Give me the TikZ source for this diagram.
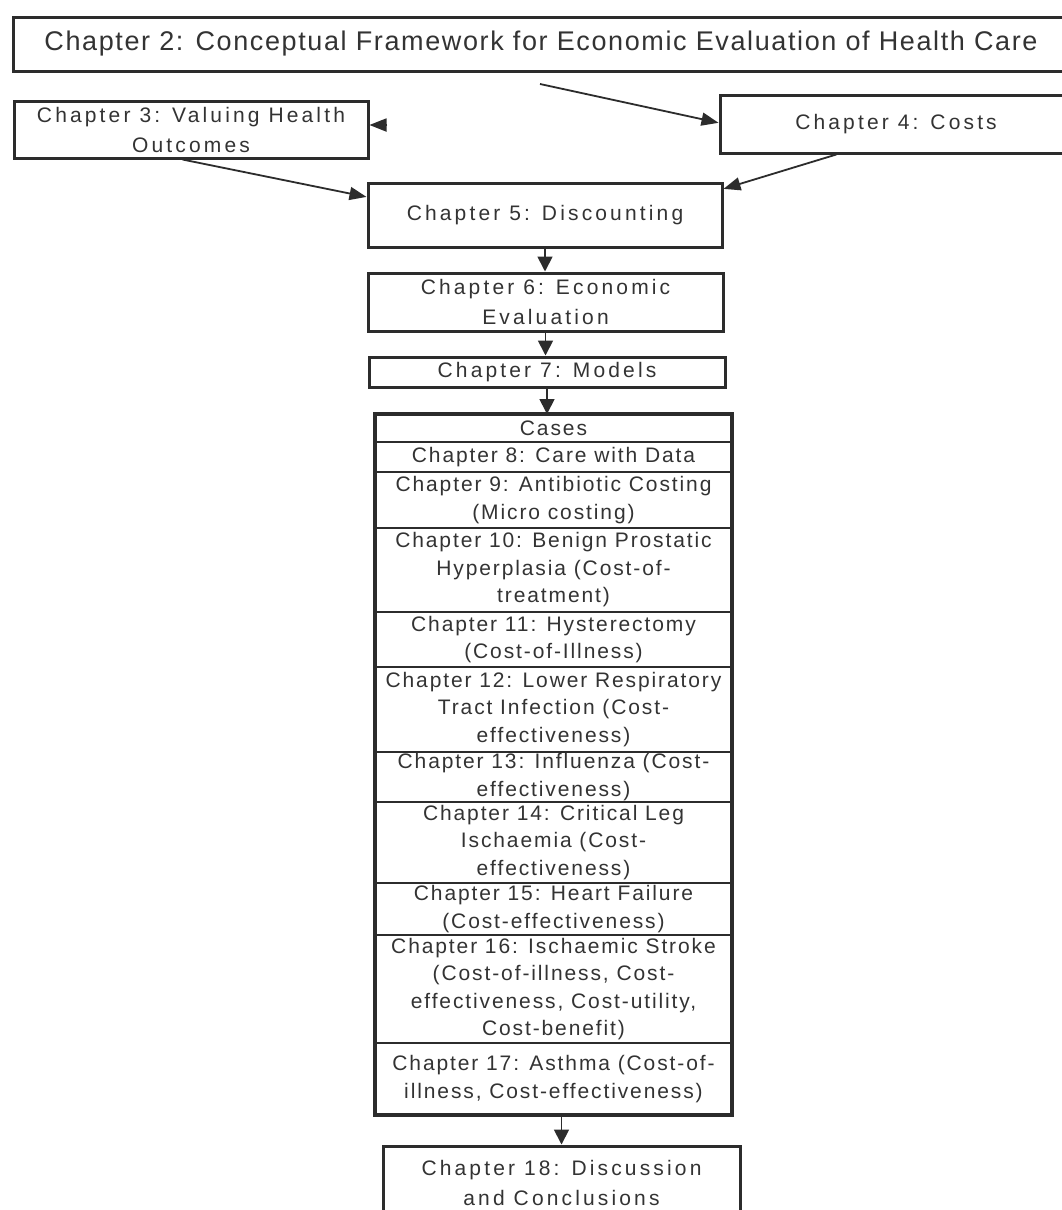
\documentclass[tikz,border=0pt]{standalone}
\usepackage{fontspec}
\usetikzlibrary{arrows.meta,calc}
\newfontfamily\boxfont[LetterSpace=15]{Liberation Sans}
\newfontfamily\rowfont[LetterSpace=9]{Liberation Sans}
\newfontfamily\titlefont[LetterSpace=6]{Liberation Sans}
\definecolor{linec}{HTML}{2C2C2C}
\definecolor{textc}{HTML}{333333}
\tikzset{
  box/.style={draw=linec, line width=3pt, fill=white, inner sep=0pt, align=center,
    text=textc, font=\boxfont\fontsize{21}{30}\selectfont},
  row/.style={draw=linec, line width=1.6pt, inner sep=0pt, outer sep=0pt, align=center,
    minimum width=357pt, anchor=north, text=textc,
    font=\rowfont\fontsize{21}{27.5}\selectfont},
  arr/.style={draw=linec, line width=1.8pt, -{Triangle[length=17pt,width=13pt]}},
  darr/.style={draw=linec, line width=1.8pt, -{Triangle[length=15pt,width=15pt]}}
}
\begin{document}
\begin{tikzpicture}[x=1pt,y=-1pt]
\useasboundingbox[fill=white] (0,0) rectangle (1062,1210);

% chapter boxes above the case list
\node[box, minimum width=1056pt, minimum height=54pt,
  font=\titlefont\fontsize{27}{32}\selectfont] (c2) at (541,44)
  {Chapter 2: Conceptual Framework for Economic Evaluation of Health Care};
\node[box, minimum width=354pt, minimum height=57pt] (c3) at (191,129.5)
  {Chapter 3: Valuing Health\\Outcomes};
\node[box, minimum width=352pt, minimum height=58pt] (c4) at (896,124)
  {Chapter 4: Costs};
\node[box, minimum width=354pt, minimum height=64pt] (c5) at (545,215)
  {Chapter 5: Discounting};
\node[box, minimum width=355pt, minimum height=58pt] (c6) at (545.5,302)
  {Chapter 6: Economic\\Evaluation};
\node[box, minimum width=356pt, minimum height=30pt] (c7) at (547,372)
  {Chapter 7: Models};

% case list
\node[draw=linec, line width=3.5pt, fill=white, inner sep=0pt, outer sep=0pt,
  minimum width=357pt, minimum height=701pt, anchor=north] (block) at (553.5,414) {};
\node[row, minimum height=28pt] (r0) at (block.north) {Cases};
\node[row, minimum height=30pt] (r8) at (r0.south) {Chapter 8: Care with Data};
\node[row, minimum height=56pt] (r9) at (r8.south)
  {Chapter 9: Antibiotic Costing\\(Micro costing)};
\node[row, minimum height=84pt] (r10) at (r9.south)
  {Chapter 10: Benign Prostatic\\Hyperplasia (Cost-of-\\treatment)};
\node[row, minimum height=55pt] (r11) at (r10.south)
  {Chapter 11: Hysterectomy\\(Cost-of-Illness)};
\node[row, minimum height=85pt] (r12) at (r11.south)
  {Chapter 12: Lower Respiratory\\Tract Infection (Cost-\\effectiveness)};
\node[row, minimum height=50pt] (r13) at (r12.south)
  {Chapter 13: Influenza (Cost-\\effectiveness)};
\node[row, minimum height=81pt] (r14) at (r13.south)
  {Chapter 14: Critical Leg\\Ischaemia (Cost-\\effectiveness)};
\node[row, minimum height=52pt] (r15) at (r14.south)
  {Chapter 15: Heart Failure\\(Cost-effectiveness)};
\node[row, minimum height=108pt] (r16) at (r15.south)
  {Chapter 16: Ischaemic Stroke\\(Cost-of-illness, Cost-\\effectiveness, Cost-utility,\\Cost-benefit)};
\node[row, minimum height=72pt] (r17) at (r16.south)
  {Chapter 17: Asthma (Cost-of-\\illness, Cost-effectiveness)};
\draw[draw=linec, line width=3.5pt] (block.north west) rectangle (block.south east);

\node[box, minimum width=357pt, minimum height=74pt] (c18) at (561.5,1183)
  {Chapter 18: Discussion\\and Conclusions};

% connectors
\coordinate (from2) at (540,84);
\coordinate (stub) at (387,125);
\draw[arr] (from2) -- ($(c4.north west)!0.48!(c4.south west)$);
\draw[arr] (stub) -- (c3.east |- stub);
\draw[arr] ($(c3.south west)!0.476!(c3.south east)$) -- ($(c5.north west)!0.23!(c5.south west)$);
\draw[arr] ($(c4.south west)!0.332!(c4.south east)$) -- ($(c5.north east)!0.11!(c5.south east)$);
\draw[darr] (c5.south) -- (c5.south |- c6.north);
\draw[darr] (c6.south) -- (c6.south |- c7.north);
\draw[darr] (c7.south) -- (c7.south |- block.north);
\draw[darr] (c18.north |- block.south) -- (c18.north);
\end{tikzpicture}
\end{document}
